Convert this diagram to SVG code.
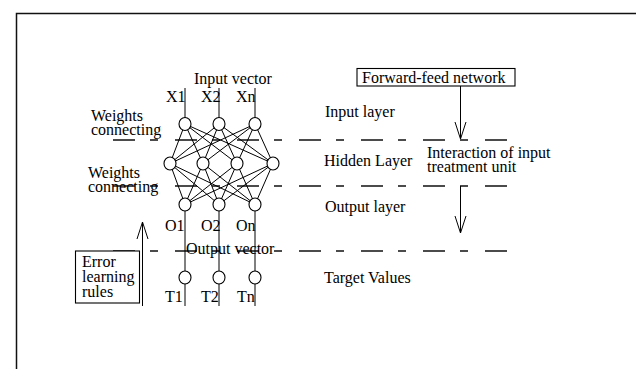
<svg xmlns="http://www.w3.org/2000/svg" width="636" height="369" viewBox="0 0 636 369">
<style>
  text { font-family: "Liberation Serif", "Times New Roman", serif; font-size: 16px; fill: #000; }
  .edge { stroke: #000; stroke-width: 1; fill: none; }
  .node { fill: #fff; stroke: #000; stroke-width: 1.1; }
  .dash { stroke: #111; stroke-width: 1.3; fill: none; stroke-dasharray: 22 15 8 17; }
  .box { fill: #fff; stroke: #000; stroke-width: 1.1; }
  .arrow { stroke: #000; stroke-width: 1; fill: none; marker-end: url(#vhead); }
</style>
<defs>
  <marker id="vhead" viewBox="-18 -7 19 14" refX="0" refY="0" markerWidth="19" markerHeight="14" markerUnits="userSpaceOnUse" orient="auto">
    <path d="M-17,-5.5 L0,0 L-17,5.5" fill="none" stroke="#000" stroke-width="1"/>
  </marker>
</defs>
<rect width="636" height="369" fill="#fff"/>
<!-- frame -->
<path d="M16.5,369 L16.5,13.5 L636,13.5" fill="none" stroke="#111" stroke-width="1.5"/>

<!-- layer separators -->
<g id="separators">
  <line class="dash" x1="113" y1="140" x2="507" y2="140"/>
  <line class="dash" x1="113" y1="186" x2="507" y2="186"/>
  <line class="dash" x1="113" y1="251" x2="507" y2="251"/>
</g>

<g id="connectors">
  <!-- input lines -->
  <line class="edge" x1="185" y1="88" x2="185" y2="124"/>
  <line class="edge" x1="219" y1="88" x2="219" y2="124"/>
  <line class="edge" x1="255" y1="88" x2="255" y2="124"/>
  <!-- input to hidden -->
  <path class="edge" d="M185,124 L170,163.5 M185,124 L203,163.5 M185,124 L237,163.5 M185,124 L273,163.5
    M219,124 L170,163.5 M219,124 L203,163.5 M219,124 L237,163.5 M219,124 L273,163.5
    M255,124 L170,163.5 M255,124 L203,163.5 M255,124 L237,163.5 M255,124 L273,163.5"/>
  <!-- hidden to output -->
  <path class="edge" d="M170,163.5 L185,204.5 M170,163.5 L219,204.5 M170,163.5 L255,204.5
    M203,163.5 L185,204.5 M203,163.5 L219,204.5 M203,163.5 L255,204.5
    M237,163.5 L185,204.5 M237,163.5 L219,204.5 M237,163.5 L255,204.5
    M273,163.5 L185,204.5 M273,163.5 L219,204.5 M273,163.5 L255,204.5"/>
  <!-- output to target lines -->
  <line class="edge" x1="185" y1="204.5" x2="185" y2="306"/>
  <line class="edge" x1="219" y1="204.5" x2="219" y2="306"/>
  <line class="edge" x1="255" y1="204.5" x2="255" y2="306"/>
  <!-- flow arrows -->
  <line class="arrow" x1="460.5" y1="86" x2="460.5" y2="139"/>
  <line class="arrow" x1="460.5" y1="186" x2="460.5" y2="233"/>
  <line class="arrow" x1="142.5" y1="306" x2="142.5" y2="222"/>
</g>

<g id="in1"><ellipse class="node" cx="185" cy="124" rx="6" ry="6.5"/></g>
<g id="in2"><ellipse class="node" cx="219" cy="124" rx="6" ry="6.5"/></g>
<g id="in3"><ellipse class="node" cx="255" cy="124" rx="6" ry="6.5"/></g>
<g id="h1"><ellipse class="node" cx="170" cy="163.5" rx="6" ry="6.5"/></g>
<g id="h2"><ellipse class="node" cx="203" cy="163.5" rx="6" ry="6.5"/></g>
<g id="h3"><ellipse class="node" cx="237" cy="163.5" rx="6" ry="6.5"/></g>
<g id="h4"><ellipse class="node" cx="273" cy="163.5" rx="6" ry="6.5"/></g>
<g id="out1"><ellipse class="node" cx="185" cy="204.5" rx="6" ry="6.5"/></g>
<g id="out2"><ellipse class="node" cx="219" cy="204.5" rx="6" ry="6.5"/></g>
<g id="out3"><ellipse class="node" cx="255" cy="204.5" rx="6" ry="6.5"/></g>
<g id="t1"><ellipse class="node" cx="185" cy="277.5" rx="6" ry="6.5"/></g>
<g id="t2"><ellipse class="node" cx="219" cy="277.5" rx="6" ry="6.5"/></g>
<g id="t3"><ellipse class="node" cx="255" cy="277.5" rx="6" ry="6.5"/></g>

<g id="forward-feed">
  <rect class="box" x="357" y="68.5" width="158" height="17.5"/>
  <text x="362" y="83">Forward-feed network</text>
</g>

<g id="error-rules">
  <rect class="box" x="75.5" y="251" width="64" height="52"/>
  <text x="82" y="267">Error</text>
  <text x="82" y="282">learning</text>
  <text x="82" y="297">rules</text>
</g>

<g id="labels">
  <text x="194" y="84">Input vector</text>
  <text x="166" y="102">X1</text>
  <text x="201" y="102">X2</text>
  <text x="236" y="102">Xn</text>
  <text x="91" y="121">Weights</text>
  <text x="91" y="135">connecting</text>
  <text x="88" y="178">Weights</text>
  <text x="88" y="192">connecting</text>
  <text x="165" y="231">O1</text>
  <text x="201" y="231">O2</text>
  <text x="236" y="231">On</text>
  <text x="186" y="254">Output vector</text>
  <text x="165" y="302">T1</text>
  <text x="201" y="302">T2</text>
  <text x="237" y="302">Tn</text>
  <text x="325" y="117">Input layer</text>
  <text x="324" y="166">Hidden Layer</text>
  <text x="325" y="212">Output layer</text>
  <text x="324" y="283">Target Values</text>
  <text x="427" y="158">Interaction of input</text>
  <text x="427" y="172">treatment unit</text>
</g>
</svg>
